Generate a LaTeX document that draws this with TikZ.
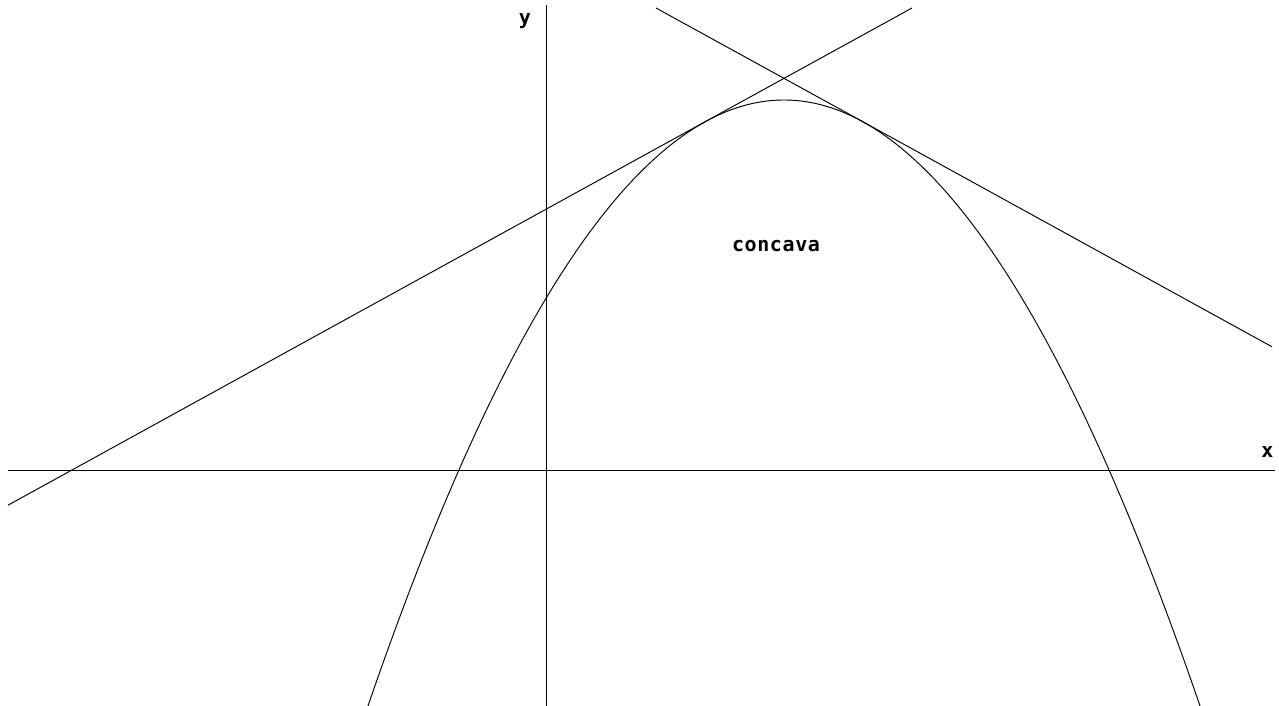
\documentclass[tikz,border=0pt]{standalone}
\usepackage{fontspec}
\newfontfamily\plotfont[LetterSpace=3]{DejaVu Sans Mono}
\usetikzlibrary{calc}

\begin{document}
\begin{tikzpicture}[
    x=1pt,
    y=1pt,
    axis/.style={
        line width=1pt
    },
    tangent/.style={
        line width=0.95pt
    },
    curve/.style={
        line width=0.95pt,
        samples=200
    },
    annot/.style={
        font=\plotfont\bfseries\fontsize{20}{20}\selectfont,
        inner sep=0pt
    }
]

\useasboundingbox (-546,-235) rectangle (733,471);

%-------------------------------------------------
% Axes
%-------------------------------------------------

\coordinate (xL) at (-538,0);
\coordinate (xR) at (729,0);
\coordinate (yB) at (0,-235);
\coordinate (yT) at (0,466);

\draw[axis] (xL)--(xR);
\draw[axis] (yB)--(yT);

\node[annot] (X) at (721.5,18.5) {x};
\node[annot] (Y) at (-21,449.5) {y};

%-------------------------------------------------
% Concave function
%-------------------------------------------------

\draw[curve] plot[domain=-178:654] (\x,{371-((\x-238)/16.9)^2});

\node[annot] (C) at (230,225) {concava};

%-------------------------------------------------
% Tangent lines
%-------------------------------------------------

\coordinate (PL) at (159,349.2);
\coordinate (PR) at (317,349.2);
\coordinate (L1) at (-538,-34.2);
\coordinate (L2) at (366,463);
\coordinate (R1) at (110,463);
\coordinate (R2) at (726,124.2);

\draw[tangent] (L1)--(PL)--(L2);
\draw[tangent] (R1)--(PR)--(R2);

\end{tikzpicture}
\end{document}
